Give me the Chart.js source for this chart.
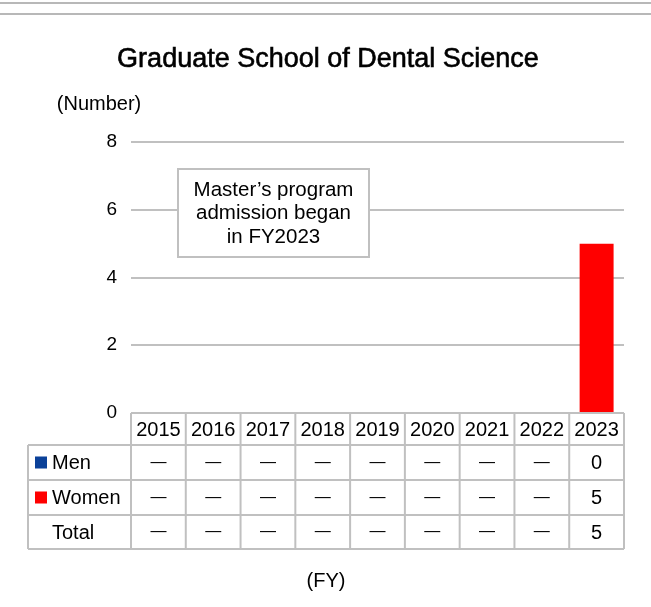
<!DOCTYPE html>
<html>
<head>
<meta charset="utf-8">
<script src="https://cdn.jsdelivr.net/npm/chart.js@4.4.0/dist/chart.umd.min.js"></script>
<style>
  html, body { margin: 0; padding: 0; background: #fff; }
  canvas { display: block; }
</style>
</head>
<body>
<canvas id="myChart" width="651" height="607"></canvas>
<script>
// values (null = no programme yet, shown as a dash)
var years = ['2015', '2016', '2017', '2018', '2019', '2020', '2021', '2022', '2023'];
var men   = [null, null, null, null, null, null, null, null, 0];
var women = [null, null, null, null, null, null, null, null, 5];
var total = [null, null, null, null, null, null, null, null, 5];
var yTicks = [0, 2, 4, 6, 8];

var FONT = '"Liberation Sans", Arial, sans-serif';
var GRID = '#c0c0c0';

var extras = {
  id: 'extras',
  afterDraw: function (chart) {
    var c = chart.ctx;
    var area = chart.chartArea;
    var xs = chart.scales.x;
    c.save();

    // two grey rules at the very top
    c.strokeStyle = '#b8b8b8';
    c.lineWidth = 2;
    [3, 14].forEach(y => {
      c.beginPath(); c.moveTo(0, y); c.lineTo(651, y); c.stroke();
    });

    // title
    c.fillStyle = '#000';
    c.strokeStyle = '#000';
    c.lineWidth = 0.6;
    c.font = '27px ' + FONT;
    c.textAlign = 'center';
    c.textBaseline = 'alphabetic';
    c.fillText('Graduate School of Dental Science', 328, 67);
    c.strokeText('Graduate School of Dental Science', 328, 67);

    // axis captions
    c.font = '20px ' + FONT;
    c.textBaseline = 'middle';
    c.fillText('(Number)', 99, 104);
    c.fillText('(FY)', 326, 581);

    // note box
    var bx = 178, by = 169, bw = 191, bh = 88;
    c.fillStyle = '#fff';
    c.fillRect(bx, by, bw, bh);
    c.strokeStyle = GRID;
    c.lineWidth = 2;
    c.strokeRect(bx, by, bw, bh);
    c.fillStyle = '#000';
    c.font = '20.5px ' + FONT;
    c.fillText('Master\u2019s program', bx + bw / 2, 190);
    c.fillText('admission began', bx + bw / 2, 213);
    c.fillText('in FY2023', bx + bw / 2, 237);

    // data table
    var step = (area.right - area.left) / years.length;
    var rowY = [area.bottom, 445, 480, 515, 549];
    var leftX = 28;
    c.strokeStyle = GRID;
    c.lineWidth = 2;
    c.beginPath();
    // horizontal lines
    c.moveTo(area.left, rowY[0]); c.lineTo(area.right, rowY[0]);
    for (var r = 1; r < rowY.length; r++) {
      c.moveTo(leftX, rowY[r]); c.lineTo(area.right, rowY[r]);
    }
    // vertical lines
    c.moveTo(leftX, rowY[1]); c.lineTo(leftX, rowY[4]);
    for (var i = 0; i <= years.length; i++) {
      var vx = area.left + i * step;
      c.moveTo(vx, rowY[0]); c.lineTo(vx, rowY[4]);
    }
    c.stroke();

    c.fillStyle = '#000';
    c.textAlign = 'center';
    c.textBaseline = 'middle';
    var rows = [men, women, total];
    years.forEach((yr, k) => {
      var cx = xs.getPixelForValue(k);
      c.font = '20px ' + FONT;
      c.fillText(yr, cx, (rowY[0] + rowY[1]) / 2 + 1);
      rows.forEach((arr, j) => {
        var cy = (rowY[j + 1] + rowY[j + 2]) / 2;
        if (arr[k] === null) {
          c.font = '16px ' + FONT;
          c.fillText('\u2014', cx, cy);
        } else {
          c.font = '20px ' + FONT;
          c.fillText(String(arr[k]), cx, cy + 1);
        }
      });
    });

    // row headers with legend keys
    c.textAlign = 'left';
    c.font = '20px ' + FONT;
    var labels = ['Men', 'Women', 'Total'];
    var keys = ['#0b4199', '#ff0000', null];
    labels.forEach((lb, j) => {
      var cy = (rowY[j + 1] + rowY[j + 2]) / 2;
      if (keys[j]) {
        c.fillStyle = keys[j];
        c.fillRect(35, cy - 6, 12, 12);
      }
      c.fillStyle = '#000';
      c.fillText(lb, 52, cy + 1);
    });

    c.restore();
  }
};

const ctx = document.getElementById('myChart');

var chart = new Chart(ctx, {
  type: 'bar',
  data: {
    labels: years,
    datasets: [{
      label: 'Men',
      data: men,
      backgroundColor: '#0b4199',
      barPercentage: 0.62,
      categoryPercentage: 1
    }, {
      label: 'Women',
      data: women,
      backgroundColor: '#ff0000',
      barPercentage: 0.62,
      categoryPercentage: 1
    }]
  },
  options: {
    responsive: false,
    animation: false,
    layout: {
      padding: { top: 142, bottom: 194, left: 81, right: 27 }
    },
    plugins: {
      legend: { display: false },
      title: { display: false },
      tooltip: { enabled: false }
    },
    scales: {
      x: {
        stacked: true,
        display: false
      },
      y: {
        stacked: true,
        min: 0,
        max: 8,
        afterFit: s => { s.width = 50; },
        afterBuildTicks: s => { s.ticks = yTicks.map(v => ({ value: v })); },
        border: { display: false },
        grid: { color: GRID, lineWidth: 2, drawTicks: false },
        ticks: {
          padding: 14,
          color: '#000',
          font: { size: 19, family: FONT }
        }
      }
    }
  },
  plugins: [extras]
});
</script>
</body>
</html>
